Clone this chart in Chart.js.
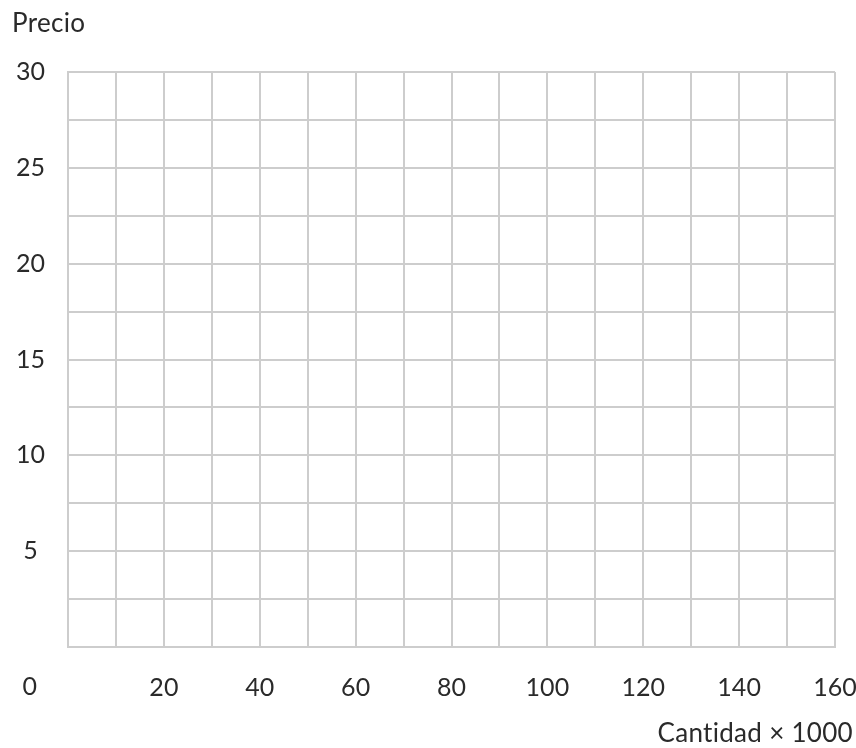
<!DOCTYPE html>
<html>
<head>
<meta charset="utf-8">
<script src="https://cdn.jsdelivr.net/npm/chart.js@4"></script>
<style>
  html, body { margin: 0; padding: 0; background: #fff; }
  #wrap { width: 856px; height: 748px; }
</style>
</head>
<body>
<div id="wrap"><canvas id="c"></canvas></div>
<script>
// axis ranges and labels
const xMin = 0, xMax = 160, xStep = 10, xLabelEvery = 20;
const yMin = 0, yMax = 30, yStep = 2.5, yLabelEvery = 5;
const yTitle = 'Precio';
const xTitle = 'Cantidad \u00d7 1000';
const originLabel = '0';

const FONT = 'Lato, "Open Sans", sans-serif';
const FONT_SIZE = 25;
const TEXT = '#2a2a2a';
const GRID = '#cdcdcd';

// draws the axis titles and the shared "0" at the corner
const titles = {
    id: 'titles',
    afterDraw(chart) {
        const ctx = chart.ctx;
        ctx.save();
        ctx.fillStyle = TEXT;
        ctx.font = '26px ' + FONT;
        ctx.letterSpacing = '0.3px'; // also keeps "ti" from ligating
        ctx.textBaseline = 'alphabetic';
        ctx.textAlign = 'left';
        ctx.fillText(yTitle, 12, 32);
        ctx.textAlign = 'right';
        ctx.fillText(xTitle, chart.width - 3, 742);
        ctx.font = FONT_SIZE + 'px ' + FONT;
        ctx.textAlign = 'center';
        ctx.textBaseline = 'middle';
        ctx.fillText(originLabel, 30, 687);
        ctx.restore();
    }
};

new Chart(document.getElementById('c'), {
    type: 'scatter',
    data: { datasets: [{ data: [] }] },
    plugins: [titles],
    options: {
        responsive: true,
        maintainAspectRatio: false,
        animation: false,
        layout: { padding: { top: 72, right: 0, left: 0, bottom: 0 } },
        plugins: { legend: { display: false }, tooltip: { enabled: false } },
        scales: {
            x: {
                type: 'linear',
                min: xMin, max: xMax,
                afterFit: s => { s.height = 101; s.paddingRight = 21; },
                grid: { color: GRID, lineWidth: 2, drawTicks: false },
                border: { color: GRID, width: 2 },
                ticks: {
                    stepSize: xStep,
                    autoSkip: false,
                    maxRotation: 0,
                    padding: 26,
                    color: TEXT,
                    font: { family: FONT, size: FONT_SIZE },
                    callback: v => (v > 0 && v % xLabelEvery === 0) ? String(v) : ''
                }
            },
            y: {
                type: 'linear',
                min: yMin, max: yMax,
                afterFit: s => { s.width = 68; },
                grid: { color: GRID, lineWidth: 2, drawTicks: false },
                border: { color: GRID, width: 2 },
                ticks: {
                    stepSize: yStep,
                    autoSkip: false,
                    padding: 23,
                    crossAlign: 'center',
                    color: TEXT,
                    font: { family: FONT, size: FONT_SIZE },
                    callback: v => (v > 0 && v % yLabelEvery === 0) ? String(v) : ''
                }
            }
        }
    }
});
</script>
</body>
</html>
